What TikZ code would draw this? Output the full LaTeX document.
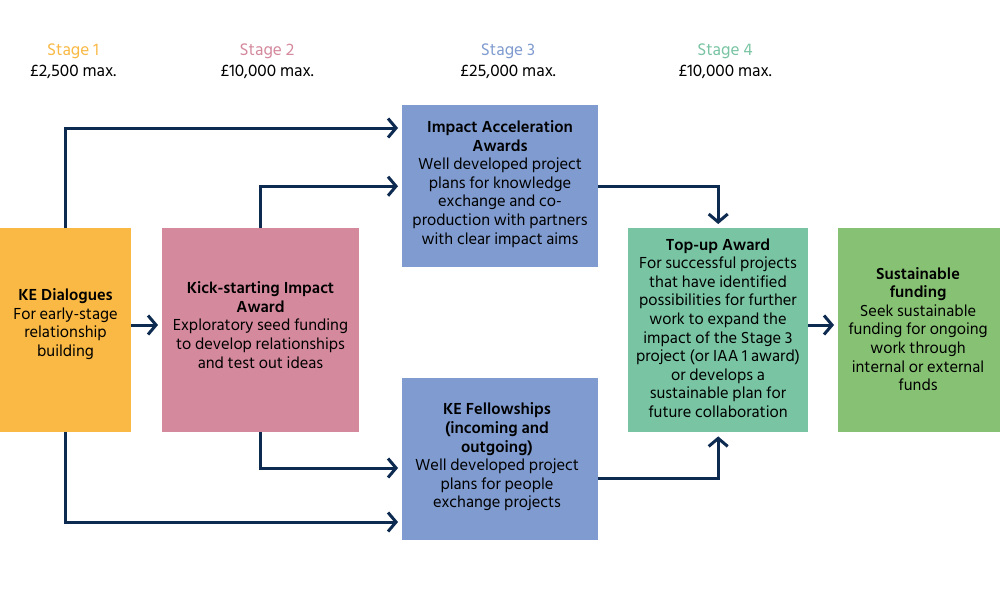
\documentclass[tikz,border=0pt]{standalone}
\usepackage{fontspec}
\setmainfont{Hind Siliguri}
\usetikzlibrary{arrows.meta}
\definecolor{cOrange}{HTML}{F9B944}
\definecolor{cPink}{HTML}{D4899D}
\definecolor{cBlue}{HTML}{7F9BCF}
\definecolor{cTeal}{HTML}{78C4A3}
\definecolor{cGreen}{HTML}{87C274}
\definecolor{cNavy}{HTML}{0D2A50}
\tikzset{
  boxst/.style={draw=none, inner sep=0pt, anchor=north west},
  btext/.style={align=center, inner sep=0pt, font=\fontsize{16.4}{18.6}\selectfont, text=black},
  arr/.style={draw=cNavy, line width=3pt, line join=miter,
    -{Straight Barb[length=8pt, width=19pt, line width=3pt]}, shorten >=4pt},
  hdr/.style={font=\fontsize{17.2}{20}\selectfont, anchor=center},
}
\begin{document}
\begin{tikzpicture}[x=1pt,y=-1pt]
\useasboundingbox (0,0) rectangle (1000,600);
\fill[white] (0,0) rectangle (1000,600);
% headers
\node[hdr, text=cOrange] (h1) at (73,51) {Stage 1};
\node[hdr] (p1) at (73,72) {£2,500 max.};
\node[hdr, text=cPink] (h2) at (267,51) {Stage 2};
\node[hdr] (p2) at (267,72) {£10,000 max.};
\node[hdr, text=cBlue] (h3) at (508,51) {Stage 3};
\node[hdr] (p3) at (508,72) {£25,000 max.};
\node[hdr, text=cTeal] (h4) at (725,51) {Stage 4};
\node[hdr] (p4) at (725,72) {£10,000 max.};
% boxes
\node[boxst, fill=cOrange, minimum width=131pt, minimum height=204pt] (ked) at (0,228) {};
\node[btext] (kedt) at (65.5,324) {\textbf{KE Dialogues}\\For early-stage\\relationship\\building};
\node[boxst, fill=cPink, minimum width=197pt, minimum height=204pt] (kick) at (162,228) {};
\node[btext] (kickt) at (260.5,325) {\textbf{Kick-starting Impact}\\\textbf{Award}\\Exploratory seed funding\\to develop relationships\\and test out ideas};
\node[boxst, fill=cBlue, minimum width=196pt, minimum height=162pt] (iaa) at (402,105) {};
\node[btext] (iaat) at (500,184) {\textbf{Impact Acceleration}\\\textbf{Awards}\\Well developed project\\plans for knowledge\\exchange and co-\\production with partners\\with clear impact aims};
\node[boxst, fill=cBlue, minimum width=196pt, minimum height=162pt] (fel) at (402,378) {};
\node[btext] (felt) at (497,457) {\textbf{KE Fellowships}\\\textbf{(incoming and}\\\textbf{outgoing)}\\Well developed project\\plans for people\\exchange projects};
\node[boxst, fill=cTeal, minimum width=180pt, minimum height=204pt] (top) at (628,228) {};
\node[btext] (topt) at (718,328) {\textbf{Top-up Award}\\For successful projects\\that have identified\\possibilities for further\\work to expand the\\impact of the Stage 3\\project (or IAA 1 award)\\or develops a\\sustainable plan for\\future collaboration};
\node[boxst, fill=cGreen, minimum width=162pt, minimum height=204pt] (sus) at (838,228) {};
\node[btext] (sust) at (918,329) {\textbf{Sustainable}\\\textbf{funding}\\Seek sustainable\\funding for ongoing\\work through\\internal or external\\funds};
% helper coordinates
\coordinate (y128) at (0,128);
\coordinate (y522) at (0,522);
\coordinate (y468) at (0,468);
\coordinate (y478) at (0,478);
\coordinate (y325) at (0,325);
% connectors
\draw[arr] (ked.north) |- (iaa.west |- y128);
\draw[arr] (ked.south) |- (fel.west |- y522);
\draw[arr] (kick.north) |- (iaa.west);
\draw[arr] (kick.south) |- (fel.west |- y468);
\draw[arr] (ked.east |- y325) -- (kick.west |- y325);
\draw[arr] (iaa.east) -| (top.north);
\draw[arr] (fel.east |- y478) -| (top.south);
\draw[arr] (top.east |- y325) -- (sus.west |- y325);
\end{tikzpicture}
\end{document}
